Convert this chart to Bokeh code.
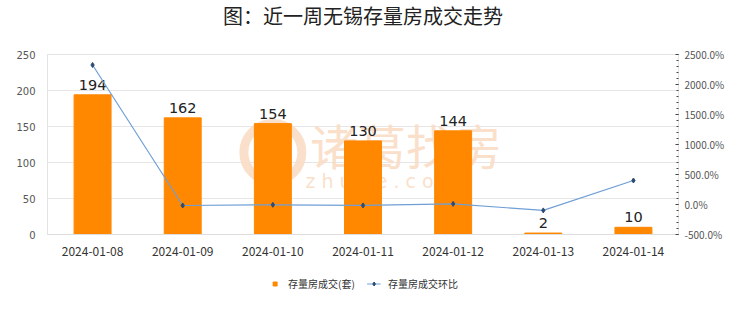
from bokeh.plotting import figure
from bokeh.layouts import column
from bokeh.models import (ColumnDataSource, FactorRange, Range1d, LinearAxis,
                          Legend, LegendItem, FixedTicker, CustomJSTickFormatter)
from bokeh.core.properties import value
from bokeh.embed import file_html
from bokeh.resources import INLINE

dates = ["2024-01-08", "2024-01-09", "2024-01-10", "2024-01-11",
         "2024-01-12", "2024-01-13", "2024-01-14"]
deals = [194, 162, 154, 130, 144, 2, 10]
change_pct = [2325.0, -16.5, -4.9, -15.6, 10.8, -98.6, 400.0]
left_ticks = [0, 50, 100, 150, 200, 250]
right_ticks = [-500, 0, 500, 1000, 1500, 2000, 2500]

title = "图：近一周无锡存量房成交走势"
bar_name = "存量房成交(套)"
line_name = "存量房成交环比"

CJK = "Noto Sans CJK SC"
BAR_COLOR = "#ff8800"
LINE_COLOR = "#6f9fd6"
MARK_COLOR = "#2b4a75"
WM_COLOR = "#fadcc4"


def strip(height):
    f = figure(width=740, height=height, x_range=Range1d(0, 1),
               y_range=Range1d(0, 1), output_backend="svg",
               toolbar_location=None, x_axis_type=None, y_axis_type=None,
               min_border=0, outline_line_color=None,
               background_fill_color="white", border_fill_color="white")
    f.xgrid.grid_line_color = None
    f.ygrid.grid_line_color = None
    return f


# title strip
tf = strip(30)
tf.text(x=[0.5], y=[0.5], text=[title], text_font=value(CJK),
        text_font_size="20px", text_color="#222222", text_align="center",
        text_baseline="middle")

src = ColumnDataSource(dict(x=dates, y=deals, pct=change_pct,
                            lbl=[str(v) for v in deals]))

p = figure(width=740, height=232, x_range=FactorRange(*dates, range_padding=0),
           y_range=Range1d(0, 250), output_backend="svg", toolbar_location=None,
           min_border_left=47, min_border_right=62, min_border_top=24,
           min_border_bottom=28, background_fill_color="white",
           border_fill_color="white")

p.outline_line_color = "#e3e3e3"
p.outline_line_width = 1

# watermark
p.scatter(x=["2024-01-10"], y=[114], marker="circle", size=58,
          fill_alpha=0, line_color=WM_COLOR, line_width=9, line_alpha=0.9)
p.text(x=["2024-01-11"], y=[126], text=["诸葛找房"], text_font=value(CJK),
       text_font_size="48px", text_color=WM_COLOR, text_alpha=0.9,
       text_align="center", text_baseline="middle", x_offset=43)
p.text(x=["2024-01-11"], y=[75], text=["z  h  u  g  e  .  c  o  m"],
       text_font=value("DejaVu Sans"),
       text_font_size="19px", text_color=WM_COLOR, text_alpha=0.9,
       text_align="center", text_baseline="middle", x_offset=43)

bars = p.vbar(x="x", top="y", width=0.41, source=src, color=BAR_COLOR,
              line_color=BAR_COLOR)
p.text(x="x", y="y", text="lbl", source=src, text_font=value("DejaVu Sans"),
       text_font_size="14.5px", text_color="#222222", text_align="center",
       text_baseline="bottom", y_offset=-5)

p.extra_y_ranges = {"pct": Range1d(-500, 2500)}
ln = p.line(x="x", y="pct", source=src, y_range_name="pct", line_color=LINE_COLOR,
            line_width=1.2)
mk = p.scatter(x="x", y="pct", source=src, y_range_name="pct", marker="diamond",
               size=5, color=MARK_COLOR)

# left axis
ax = p.yaxis[0]
ax.ticker = FixedTicker(ticks=left_ticks)
ax.major_tick_line_color = None
ax.minor_tick_line_color = None
ax.axis_line_color = "#e3e3e3"
ax.major_label_text_font = "DejaVu Sans"
ax.major_label_text_font_size = "10px"
ax.major_label_text_color = "#555555"
ax.major_label_standoff = 6

# right axis
rax = LinearAxis(y_range_name="pct")
rax.ticker = FixedTicker(ticks=right_ticks,
                         minor_ticks=list(range(-500, 2501, 100)))
rax.formatter = CustomJSTickFormatter(code="return tick.toFixed(1) + '%';")
rax.major_tick_in = 3
rax.major_tick_out = 0
rax.minor_tick_in = 2
rax.minor_tick_out = 0
rax.major_tick_line_color = "#444444"
rax.minor_tick_line_color = "#444444"
rax.axis_line_color = "#e3e3e3"
rax.major_label_text_font = "Noto Sans CJK JP"
rax.major_label_text_font_size = "10px"
rax.major_label_text_color = "#555555"
rax.major_label_standoff = 6
p.add_layout(rax, "right")

# x axis
xa = p.xaxis[0]
xa.major_tick_line_color = None
xa.minor_tick_line_color = None
xa.axis_line_color = "#dddddd"
xa.major_label_text_font = "Noto Sans CJK JP"
xa.major_label_text_font_size = "12px"
xa.major_label_text_color = "#333333"
xa.major_label_standoff = 6

p.xgrid.grid_line_color = None
p.ygrid.ticker = FixedTicker(ticks=left_ticks)
p.ygrid.grid_line_color = "#e6e6e6"
p.ygrid.grid_line_width = 1

# legend strip
lf = strip(42)
nan = float("nan")
sq = lf.scatter(x=[nan], y=[nan], marker="square", size=7, color=BAR_COLOR)
ln2 = lf.line(x=[nan], y=[nan], line_color=LINE_COLOR, line_width=1.2)
mk2 = lf.scatter(x=[nan], y=[nan], marker="diamond", size=5, color=MARK_COLOR)
legend = Legend(items=[LegendItem(label=bar_name, renderers=[sq]),
                       LegendItem(label=line_name, renderers=[ln2, mk2])],
                orientation="horizontal", location="center",
                border_line_alpha=0, background_fill_alpha=0,
                label_text_font=CJK, label_text_font_size="10px",
                label_text_color="#333333", glyph_width=14, glyph_height=10,
                spacing=12, label_standoff=7, margin=0, padding=2)
lf.add_layout(legend, "center")

layout = column(tf, p, lf, spacing=0)
open("out.html", "w").write(file_html(layout, INLINE))
